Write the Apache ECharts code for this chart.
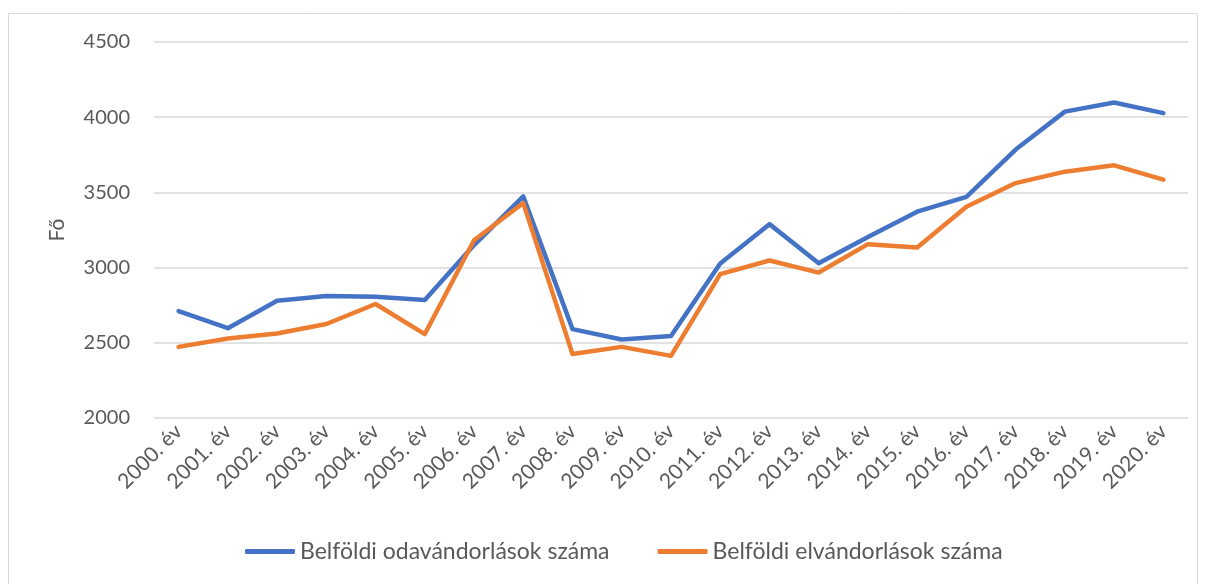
<!DOCTYPE html>
<html lang="hu">
<head>
<meta charset="UTF-8">
<title>Belföldi vándorlások</title>
<script src="https://cdn.jsdelivr.net/npm/echarts@6/dist/echarts.min.js"></script>
<style>
  html, body { margin: 0; padding: 0; background: #fff; }
  #chart { width: 1205px; height: 584px; }
</style>
</head>
<body>
<div id="chart"></div>
<script>
var years = ['2000. év', '2001. év', '2002. év', '2003. év', '2004. év', '2005. év', '2006. év',
  '2007. év', '2008. év', '2009. év', '2010. év', '2011. év', '2012. év', '2013. év',
  '2014. év', '2015. év', '2016. év', '2017. év', '2018. év', '2019. év', '2020. év'];

// odavándorlások (beköltözők)
var odavandorlas = [2711, 2597, 2780, 2811, 2806, 2785, 3150, 3473, 2591, 2522, 2545,
  3027, 3289, 3029, 3203, 3372, 3470, 3785, 4037, 4098, 4027];

// elvándorlások (elköltözők)
var elvandorlas = [2473, 2529, 2562, 2625, 2758, 2558, 3182, 3429, 2425, 2473, 2413,
  2957, 3047, 2967, 3156, 3133, 3405, 3562, 3638, 3680, 3585];

var yTicks = { min: 2000, max: 4500, step: 500 };

var chart = echarts.init(document.getElementById('chart'));
var fontName = 'Lato';
var textColor = '#595959';

chart.setOption({
  animation: false,
  textStyle: { fontFamily: fontName },
  graphic: [{
    type: 'rect',
    shape: { x: 8.5, y: 13.5, width: 1189, height: 580 },
    style: { fill: 'none', stroke: '#d9d9d9', lineWidth: 1 },
    silent: true
  }],
  grid: { left: 154, right: 17, top: 42, bottom: 166 },
  legend: {
    bottom: 16,
    left: 240,
    itemWidth: 50,
    itemHeight: 5,
    itemGap: 48,
    icon: 'roundRect',
    textStyle: { fontFamily: fontName, fontSize: 23, color: textColor },
    data: ['Belföldi odavándorlások száma', 'Belföldi elvándorlások száma']
  },
  xAxis: {
    type: 'category',
    data: years,
    axisLine: { show: false },
    axisTick: { show: false },
    axisLabel: {
      rotate: 45,
      interval: 0,
      margin: 10,
      fontFamily: fontName,
      fontSize: 21,
      color: textColor
    }
  },
  yAxis: {
    type: 'value',
    min: yTicks.min,
    max: yTicks.max,
    interval: yTicks.step,
    name: 'Fő',
    nameLocation: 'middle',
    nameGap: 86,
    nameRotate: 90,
    nameTextStyle: { fontFamily: fontName, fontSize: 21, color: textColor },
    axisLine: { show: false },
    axisTick: { show: false },
    axisLabel: {
      margin: 24,
      fontFamily: fontName,
      fontSize: 20,
      color: textColor,
      formatter: function (v) { return String(v); }
    },
    splitLine: { lineStyle: { color: '#d9d9d9', width: 1.5 } }
  },
  series: [{
    name: 'Belföldi odavándorlások száma',
    type: 'line',
    data: odavandorlas,
    symbol: 'none',
    lineStyle: { color: '#4472C4', width: 4.5, cap: 'round', join: 'round' },
    itemStyle: { color: '#4472C4' }
  }, {
    name: 'Belföldi elvándorlások száma',
    type: 'line',
    data: elvandorlas,
    symbol: 'none',
    lineStyle: { color: '#ED7D31', width: 4.5, cap: 'round', join: 'round' },
    itemStyle: { color: '#ED7D31' }
  }]
});
</script>
</body>
</html>
